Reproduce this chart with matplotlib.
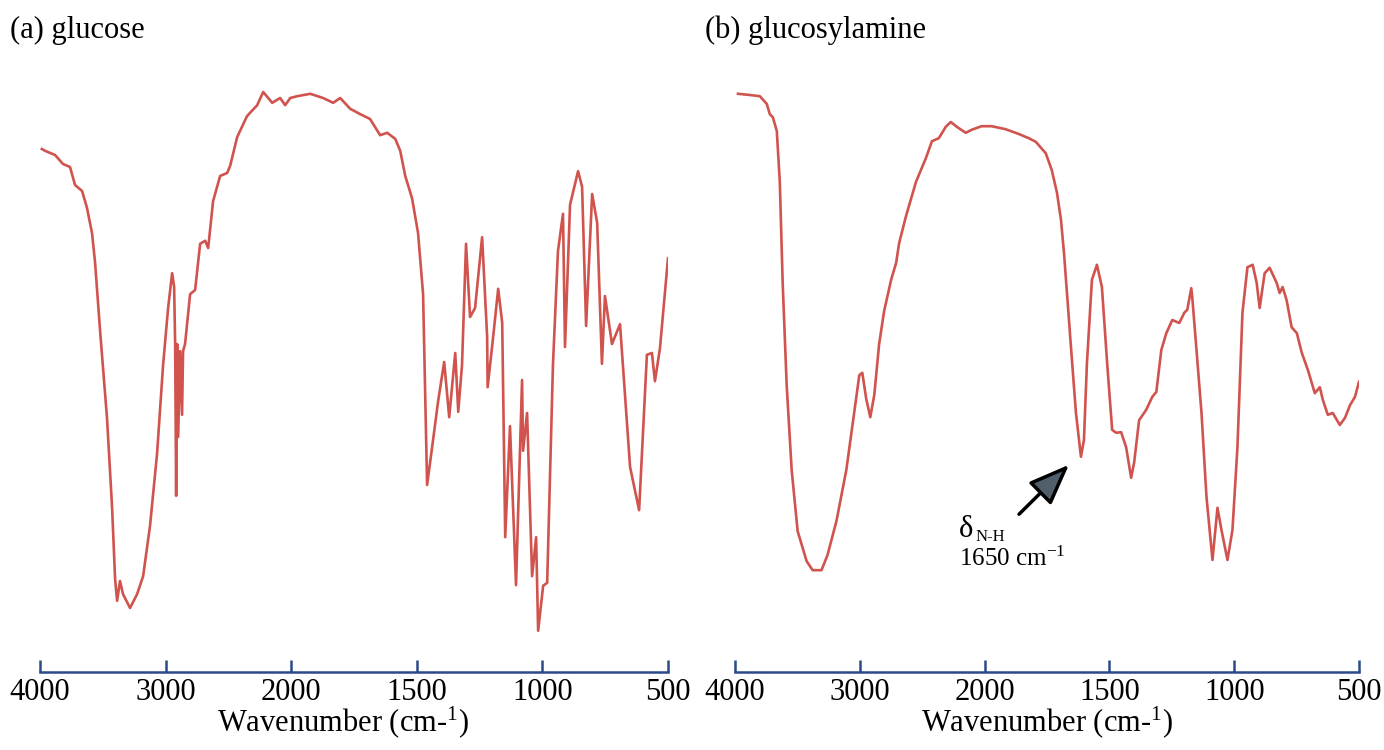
import matplotlib
matplotlib.use("Agg")
import matplotlib.pyplot as plt
import numpy as np

plt.rcParams['font.family'] = ['Liberation Serif', 'DejaVu Serif']
plt.rcParams['mathtext.fontset'] = 'custom'
plt.rcParams['mathtext.rm'] = 'Liberation Serif'
plt.rcParams['mathtext.it'] = 'Liberation Serif:italic'

# FTIR spectra (wavenumber in cm-1, transmittance in %)
glucose_wn = [3985, 3960, 3880, 3817, 3761, 3721, 3665, 3626, 3586, 3562, 3522, 3466,
              3426, 3402, 3386, 3363, 3339, 3283, 3227, 3179, 3124, 3068, 3020, 2980,
              2948, 2932, 2924, 2916, 2908, 2900, 2884, 2869, 2861, 2845, 2805, 2765,
              2725, 2685, 2661, 2622, 2566, 2510, 2486, 2430, 2351, 2271, 2223, 2151,
              2088, 2048, 2008, 1976, 1924, 1873, 1833, 1805, 1765, 1725, 1686, 1646,
              1618, 1586, 1566, 1546, 1519, 1495, 1475, 1459, 1439, 1415, 1391, 1371,
              1347, 1335, 1320, 1304, 1288, 1268, 1240, 1220, 1218, 1196, 1176, 1160,
              1148, 1129, 1105, 1081, 1077, 1061, 1041, 1025, 1017, 997, 981, 958,
              938, 918, 910, 890, 858, 842, 826, 802, 782, 763, 751, 723,
              691, 651, 615, 584, 564, 552, 532, 500]
glucose_t = [88.5, 88.2, 87.5, 86.0, 85.5, 82.5, 81.5, 78.7, 74.5, 69.7, 58.3, 43.5,
             28.7, 16.8, 13.2, 16.5, 14.3, 12.0, 14.3, 17.3, 25.7, 37.7, 52.5, 62.0,
             67.8, 65.5, 56.0, 30.7, 56.0, 40.5, 54.8, 44.2, 54.8, 56.0, 64.3, 65.0,
             72.7, 73.2, 72.0, 79.8, 84.0, 84.5, 85.7, 90.5, 94.0, 95.8, 98.0, 96.2,
             97.0, 95.8, 97.0, 97.3, 97.7, 97.0, 96.2, 97.0, 95.2, 94.3, 93.5, 90.8,
             91.2, 90.2, 88.2, 84.0, 80.3, 74.5, 64.3, 32.5, 38.8, 46.5, 53.0, 43.8,
             54.5, 44.7, 52.5, 72.7, 60.5, 62.0, 73.8, 57.2, 48.8, 57.2, 65.2, 59.5,
             23.8, 42.3, 15.8, 50.0, 38.2, 44.5, 17.3, 23.8, 8.2, 15.7, 16.2, 52.5,
             71.5, 77.7, 55.5, 79.2, 84.8, 82.2, 59.0, 81.0, 76.2, 52.7, 64.0, 56.0,
             59.3, 35.5, 28.3, 54.2, 54.5, 49.8, 55.3, 70.3]

amine_wn = [3976, 3880, 3801, 3745, 3721, 3697, 3665, 3641, 3618, 3586, 3546, 3498,
            3426, 3378, 3307, 3259, 3187, 3108, 3044, 3004, 2980, 2948, 2916, 2884,
            2845, 2805, 2749, 2709, 2685, 2630, 2550, 2470, 2422, 2367, 2311, 2271,
            2223, 2151, 2104, 2024, 1972, 1916, 1863, 1823, 1795, 1755, 1731, 1710,
            1694, 1682, 1670, 1654, 1634, 1614, 1602, 1590, 1570, 1550, 1530, 1509,
            1489, 1473, 1453, 1433, 1413, 1401, 1381, 1353, 1328, 1312, 1292, 1272,
            1248, 1220, 1200, 1188, 1172, 1168, 1152, 1131, 1111, 1087, 1067, 1051,
            1027, 1007, 987, 967, 947, 926, 910, 898, 878, 858, 830, 818,
            806, 790, 770, 749, 729, 705, 677, 657, 645, 625, 605, 577,
            556, 536, 516, 500]
amine_t = [97.7, 97.5, 97.3, 96.0, 94.3, 93.8, 91.5, 83.0, 66.2, 49.2, 35.0, 24.8,
           19.8, 18.3, 18.3, 20.8, 26.5, 35.0, 44.7, 50.8, 51.2, 46.8, 43.8, 47.5,
           56.0, 61.5, 66.7, 69.5, 72.8, 77.3, 83.0, 87.0, 89.8, 90.3, 92.2, 93.0,
           92.2, 91.2, 91.7, 92.3, 92.3, 91.8, 91.0, 90.3, 89.7, 87.8, 85.0, 81.2,
           76.7, 71.2, 64.5, 55.5, 44.5, 37.2, 40.0, 52.8, 66.7, 69.2, 65.5, 52.8,
           41.7, 41.2, 41.3, 38.8, 33.7, 36.2, 43.3, 45.0, 47.2, 48.0, 55.0, 57.8,
           60.0, 59.5, 61.2, 61.7, 65.3, 63.8, 55.5, 44.5, 30.5, 20.0, 28.7, 25.0,
           20.0, 25.0, 38.8, 61.2, 68.8, 69.2, 66.2, 62.0, 67.8, 68.7, 66.2, 64.5,
           65.5, 63.3, 58.8, 57.8, 54.5, 51.7, 47.8, 48.8, 46.7, 44.2, 44.5, 42.5,
           43.7, 45.8, 47.2, 49.7]

ticks = [4000, 3000, 2000, 1500, 1000, 500]
titles = ['(a) glucose', '(b) glucosylamine']


# FTIR x scale: half the density above 2000 cm-1
def fwd(w):
    w = np.asarray(w, dtype=float)
    return np.where(w > 2000, 2000 + (w - 2000) / 2.0, w)


def inv(s):
    s = np.asarray(s, dtype=float)
    return np.where(s > 2000, 2000 + (s - 2000) * 2.0, s)


line_col = '#d0534e'
axis_col = '#2a4a8a'

fig = plt.figure(figsize=(13.84, 7.5), dpi=100)
ax1 = fig.add_axes([40 / 1384, 78 / 750, 628 / 1384, 592 / 750])
ax2 = fig.add_axes([735 / 1384, 78 / 750, 624 / 1384, 592 / 750])

for ax, wn, t in [(ax1, glucose_wn, glucose_t), (ax2, amine_wn, amine_t)]:
    ax.set_xscale('function', functions=(fwd, inv))
    ax.plot(wn, t, color=line_col, lw=1.9, solid_joinstyle='round')
    ax.set_xlim(4000, 500)
    ax.set_ylim(1.33, 100)
    ax.set_xticks(ticks)
    ax.set_xticklabels([str(v) for v in ticks])
    ax.minorticks_off()
    ax.set_yticks([])
    for s in ['top', 'left', 'right']:
        ax.spines[s].set_visible(False)
    ax.spines['bottom'].set_color(axis_col)
    ax.spines['bottom'].set_linewidth(1.8)
    ax.tick_params(axis='x', direction='in', length=9, width=1.8, color=axis_col,
                   labelsize=22, pad=4)
    ax.set_xlabel('Wavenumber (cm-$^{1}$)', fontsize=22, labelpad=-2)
    ax.patch.set_alpha(0)

ax1.xaxis.label.set_x(0.482)

fig.text(10 / 1384, 1 - 30 / 750, titles[0], fontsize=22, va='center')
fig.text(705 / 1384, 1 - 30 / 750, titles[1], fontsize=22, va='center')

# N-H bending annotation
ax2.annotate('', xy=(1654, 36.2), xytext=(1870, 27.3),
             arrowprops=dict(arrowstyle='-|>,head_length=1.4,head_width=0.55',
                             mutation_scale=18, lw=2.5, fc='#4f5f6c', ec='black'))
ax2.text(2207, 23.8, 'δ', fontsize=22, va='baseline')
ax2.annotate('N-H', xy=(2207, 23.8), xytext=(12, -3), textcoords='offset points',
             fontsize=12, va='baseline')
ax2.text(2207, 19.0, '1650 cm$^{-1}$', fontsize=18, va='baseline')

plt.savefig('out.png', dpi=100)
